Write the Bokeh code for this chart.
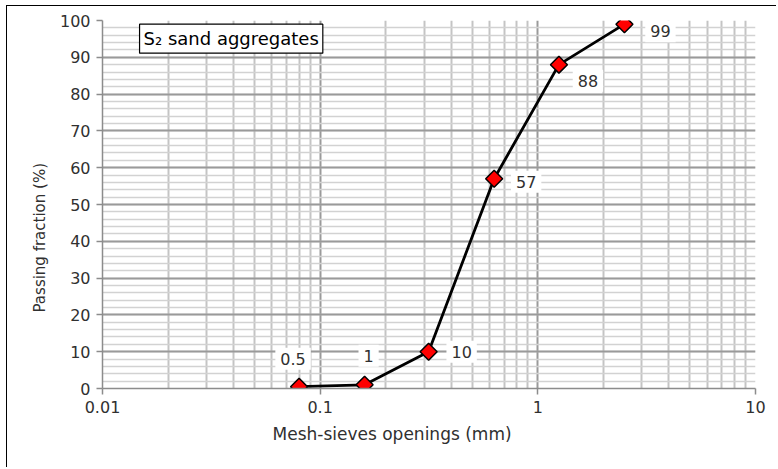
import numpy as np
from bokeh.plotting import figure
from bokeh.models import (ColumnDataSource, FixedTicker, Label, Title,
                          Range1d, CustomJSTickFormatter)
from bokeh.core.properties import value
from bokeh.embed import file_html
from bokeh.resources import INLINE

# ---- data ----
sieve_mm = [0.08, 0.16, 0.315, 0.63, 1.25, 2.5]
passing = [0.5, 1, 10, 57, 88, 99]
point_labels = ["0.5", "1", "10", "57", "88", "99"]
x_ticks = [0.01, 0.1, 1, 10]
y_ticks = [0, 10, 20, 30, 40, 50, 60, 70, 80, 90, 100]
title_text = "S\u2082 sand aggregates"
x_title = "Mesh-sieves openings (mm)"
y_title = "Passing fraction (%)"

# label offsets (screen px, y down) for each point label
lab_dx = [-6, 4, 33, 32, 29, 36]
lab_dy = [-28, -29, 0, 3, 16, 7]

FONT = "DejaVu Sans"
TXT = "#303030"

p = figure(width=770, height=462, x_axis_type="log",
           x_range=Range1d(0.01, 10), y_range=Range1d(0, 100),
           output_backend="svg", toolbar_location=None,
           min_border_left=95, min_border_right=22, min_border_top=14, min_border_bottom=80)
p.styles = {"margin-left": "6px", "margin-top": "5px",
            "border-left": "1px solid #000", "border-top": "1px solid #000"}
p.outline_line_color = None
p.background_fill_color = "white"
p.border_fill_color = "white"

# axes
p.xaxis.ticker = FixedTicker(ticks=x_ticks, minor_ticks=[m * d for d in [0.01, 0.1, 1] for m in range(2, 10)])
p.xaxis.formatter = CustomJSTickFormatter(code="return String(+tick.toPrecision(3));")
p.yaxis.ticker = FixedTicker(ticks=y_ticks, minor_ticks=list(range(0, 101, 2)))
for ax in (p.xaxis[0], p.yaxis[0]):
    ax.axis_line_color = "#8c8c8c"
    ax.axis_line_width = 1.5
    ax.major_tick_line_color = "#8c8c8c"
    ax.major_tick_line_width = 1.5
    ax.major_tick_out = 6
    ax.major_tick_in = 0
    ax.minor_tick_line_color = None
    ax.major_label_text_font = FONT
    ax.major_label_text_font_size = "16px"
    ax.major_label_text_color = TXT
p.xaxis.major_label_standoff = 6
p.yaxis.major_label_standoff = 6

# grids
p.xgrid.grid_line_color = "#9a9a9a"
p.xgrid.grid_line_width = 2
p.xgrid.minor_grid_line_color = "#c4c4c4"
p.xgrid.minor_grid_line_width = 2
p.ygrid.grid_line_color = "#9a9a9a"
p.ygrid.grid_line_width = 2
p.ygrid.minor_grid_line_color = "#d2d2d2"
p.ygrid.minor_grid_line_width = 1.5

src = ColumnDataSource(dict(x=sieve_mm, y=passing, t=point_labels, dx=lab_dx, dy=lab_dy))
p.line("x", "y", source=src, line_color="black", line_width=2.8)
p.scatter("x", "y", source=src, marker="square", size=12, angle=np.pi / 4,
          fill_color="#ff0000", line_color="black", line_width=1.5)

p.text("x", "y", text="t", source=src, x_offset="dx", y_offset="dy",
       text_align="center", text_baseline="middle",
       text_font=value(FONT), text_font_size="16px", text_color=TXT,
       background_fill_color="white", padding=5)

# title box
p.add_layout(Label(x=0.0148, y=99.0, text=title_text, text_align="left", text_baseline="top",
                   text_font=FONT, text_font_size="18px", text_color="black",
                   background_fill_color="white", border_line_color="black", border_line_width=1.2,
                   padding=4))

# axis titles
p.add_layout(Title(text=x_title, align="left", offset=170, standoff=13,
                   text_font=FONT, text_font_size="17px", text_font_style="normal",
                   text_color=TXT), "below")
p.add_layout(Title(text=y_title, align="left", offset=76, standoff=16,
                   text_font=FONT, text_font_size="15px", text_font_style="normal",
                   text_color=TXT), "left")

open("out.html", "w").write(file_html(p, INLINE))
